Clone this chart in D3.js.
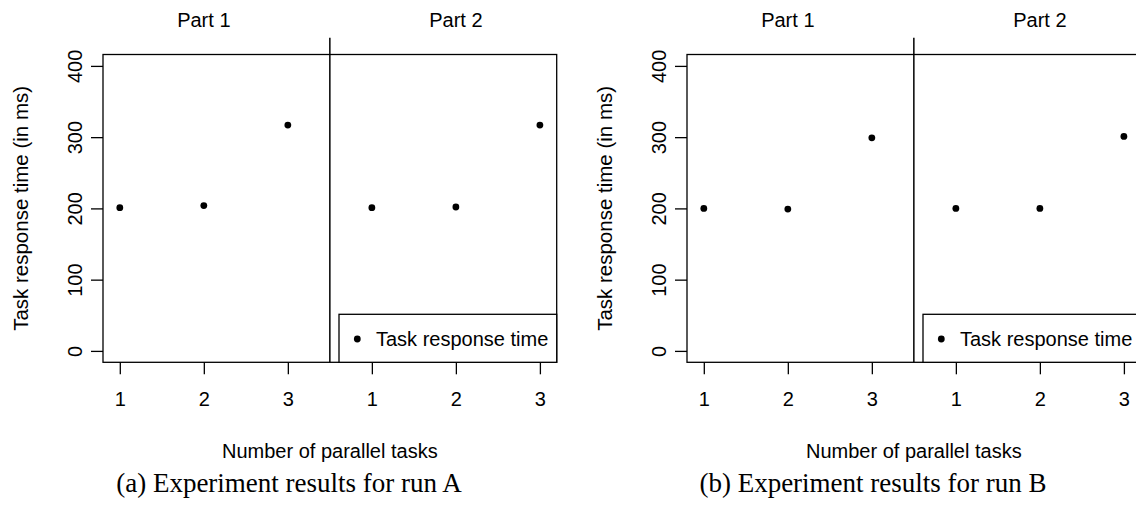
<!DOCTYPE html>
<html>
<head>
<meta charset="utf-8">
<script src="https://cdn.jsdelivr.net/npm/d3@7"></script>
<style>
  body { margin: 0; background: #fff; overflow: hidden; }
  svg { display: block; }
  .sans { font-family: "Liberation Sans", Arial, Helvetica, sans-serif; }
  .serif { font-family: "Liberation Serif", "Times New Roman", serif; }
</style>
</head>
<body>
<script>
// values (ms)
const parts = ["Part 1", "Part 2"];
const taskCounts = [1, 2, 3];
const runAPart1 = [201, 204, 317];
const runAPart2 = [201, 202, 317];
const runBPart1 = [200, 199, 299];
const runBPart2 = [200, 200, 301];
const yTicks = [0, 100, 200, 300, 400];
const captions = ["(a) Experiment results for run A", "(b) Experiment results for run B"];
const legendLabel = "Task response time";
const xTitle = "Number of parallel tasks";
const yTitle = "Task response time (in ms)";

const width = 1136;
const height = 508;
const panelShift = 584;
const fontSize = 20;

let svg = d3.select("body")
    .append("svg")
    .attr("width", width)
    .attr("height", height);

// both parts share one x axis: positions 1..3 then 4..6, split at 3.5
let x = d3.scaleLinear().domain([0.8, 6.2]).range([103, 556.7]);
let y = d3.scaleLinear().domain([-16, 416]).range([362.3, 54.5]);

let drawPanel = function(g, part1, part2, caption){
    let points = [];
    part1.forEach((v, i) => points.push({pos: taskCounts[i], label: taskCounts[i], value: v}));
    part2.forEach((v, i) => points.push({pos: taskCounts[i] + taskCounts.length, label: taskCounts[i], value: v}));

    let [x0, x1] = x.range();
    let [y0, y1] = y.range();

    // frame
    g.append("rect")
        .attr("x", x0)
        .attr("y", y1)
        .attr("width", x1 - x0)
        .attr("height", y0 - y1)
        .attr("fill", "none")
        .attr("stroke", "#000")
        .attr("stroke-width", 1.3);

    // separator between the parts
    let split = x(taskCounts.length + 0.5);
    g.append("line")
        .attr("x1", split).attr("x2", split)
        .attr("y1", 37.7).attr("y2", y0)
        .attr("stroke", "#000")
        .attr("stroke-width", 1.5);

    g.selectAll(".part-label")
        .data(parts)
        .enter().append("text")
        .attr("class", "part-label sans")
        .attr("x", (d, i) => x(2 + i * taskCounts.length))
        .attr("y", 26.7)
        .attr("text-anchor", "middle")
        .attr("font-size", fontSize)
        .text(d => d);

    // x axis
    let xAxis = d3.axisBottom(x)
        .tickValues(points.map(d => d.pos))
        .tickFormat(v => points.find(d => d.pos === v).label)
        .tickSize(12)
        .tickPadding(16);
    let xg = g.append("g")
        .attr("transform", `translate(0,${y0})`)
        .call(xAxis);
    xg.select(".domain").remove();
    xg.selectAll(".tick line").attr("stroke", "#000").attr("stroke-width", 1.3);
    xg.selectAll(".tick text")
        .attr("class", "sans")
        .attr("font-size", fontSize)
        .attr("fill", "#000")
        .attr("dy", null)
        .attr("y", 406 - y0);

    // y axis, labels turned parallel to the axis
    let yAxis = d3.axisLeft(y)
        .tickValues(yTicks)
        .tickSize(12)
        .tickFormat(d3.format("d"));
    let yg = g.append("g")
        .attr("transform", `translate(${x0},0)`)
        .call(yAxis);
    yg.select(".domain").remove();
    yg.selectAll(".tick line").attr("stroke", "#000").attr("stroke-width", 1.3);
    yg.selectAll(".tick text")
        .attr("class", "sans")
        .attr("font-size", fontSize)
        .attr("fill", "#000")
        .attr("x", null)
        .attr("dy", null)
        .attr("text-anchor", "middle")
        .attr("transform", `translate(${82 - x0},0) rotate(-90)`);

    g.append("text")
        .attr("class", "sans")
        .attr("transform", `translate(27.5,${(y0 + y1) / 2}) rotate(-90)`)
        .attr("text-anchor", "middle")
        .attr("font-size", 20.5)
        .text(yTitle);

    g.append("text")
        .attr("class", "sans")
        .attr("x", (x0 + x1) / 2)
        .attr("y", 458)
        .attr("text-anchor", "middle")
        .attr("font-size", fontSize)
        .text(xTitle);

    g.selectAll(".pt")
        .data(points)
        .enter().append("circle")
        .attr("class", "pt")
        .attr("cx", d => x(d.pos))
        .attr("cy", d => y(d.value))
        .attr("r", 3.4)
        .attr("fill", "#000");

    // legend, bottom right
    let lw = 217.7, lh = 48;
    let legend = g.append("g")
        .attr("transform", `translate(${x1 - lw},${y0 - lh})`);
    legend.append("rect")
        .attr("width", lw)
        .attr("height", lh)
        .attr("fill", "#fff")
        .attr("stroke", "#000")
        .attr("stroke-width", 1.3);
    legend.append("circle")
        .attr("cx", 18.3)
        .attr("cy", 24.7)
        .attr("r", 3.4)
        .attr("fill", "#000");
    legend.append("text")
        .attr("class", "sans")
        .attr("x", 37)
        .attr("y", 24.7)
        .attr("dy", "0.35em")
        .attr("font-size", fontSize)
        .text(legendLabel);

    g.append("text")
        .attr("class", "serif")
        .attr("x", 289)
        .attr("y", 492)
        .attr("text-anchor", "middle")
        .attr("font-size", 27)
        .text(caption);
}

drawPanel(svg.append("g"), runAPart1, runAPart2, captions[0]);
drawPanel(svg.append("g").attr("transform", `translate(${panelShift},0)`), runBPart1, runBPart2, captions[1]);
</script>
</body>
</html>
